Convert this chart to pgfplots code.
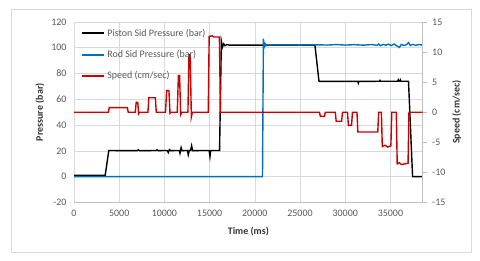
\documentclass[border=0pt]{standalone}
\usepackage{pgfplots}
\pgfplotsset{compat=1.18}
\usetikzlibrary{calc}
\usepackage{fontspec}
\setmainfont{Carlito}
\definecolor{gridc}{HTML}{D9D9D9}
\definecolor{tickc}{HTML}{595959}
\definecolor{axc}{HTML}{BFBFBF}
\definecolor{cblue}{RGB}{0,112,192}
\definecolor{cred}{RGB}{204,0,0}
\begin{document}
\begin{tikzpicture}
\pgfplotsset{
  common/.style={
    scale only axis, width=348.7bp, height=180.4bp,
    xmin=0, xmax=38570,
    scaled x ticks=false,
    /pgf/number format/assume math mode=true,
    /pgf/number format/1000 sep={},
    tick label style={font=\fontsize{10}{12}\selectfont, text=tickc},
    label style={font=\fontsize{10}{12}\selectfont\bfseries, text=black!80},
  }
}
\begin{axis}[common, name=ax,
  ymin=-20, ymax=120, ytick={-20,0,...,120},
  xtick={0,5000,...,35000},
  grid=major, major grid style={gridc, line width=0.6bp},
  axis line style={draw=none},
  major tick length=0pt,
  yticklabel style={xshift=-4bp},
  xticklabel style={yshift=-4bp},
  ylabel={Pressure (bar)},
  ylabel style={at={(axis description cs:-0.0975,0.5)}, anchor=center},
  xlabel={Time (ms)},
  xlabel style={at={(axis description cs:0.5,-0.1625)}, anchor=center},
]
\draw[axc, line width=0.6bp] (axis cs:0,-20) -- (axis cs:38570,-20);
\addplot[black, line width=1.4bp] coordinates {
(0,1.1) (3450,1.1) (3850,20.3) (5000,20.2) (7000,20.2) (7120,20.8) (7250,20.1)
(9100,20.3) (9200,20.8) (9300,20.2) (10300,20.3) (10430,18.7) (10550,21) (10700,20.2)
(11650,20.3) (11720,18.2) (11850,22.5) (11950,20.2) (12550,20.3) (12640,16.9) (12750,20.4)
(12900,20.3) (13010,24) (13120,20.2) (14950,20.3) (15040,15.6) (15120,20.3) (16100,20.3)
(16300,105) (16420,100.5) (16550,103) (16700,101.6) (16900,102.5) (17200,102)
(20000,102) (26650,102) (27100,73.9) (31400,73.9) (31450,72.6) (31500,73.9)
(33800,74) (33850,74.6) (33900,74) (35800,74) (35870,75.2) (35950,74.1) (36050,74.2)
(36100,75.0) (36150,74) (37000,74) (37450,0) (38570,0)
};
\addplot[cblue, line width=1.4bp] coordinates {
(0,0) (20850,0) (20950,107) (21050,100.8) (21150,103) (21250,101.6) (21400,102.5)
(21600,102.1) (23000,102.2) (25000,102.1) (27000,102.3) (28000,102.1) (29000,102.5)
(30000,102.1) (31000,102.4) (32000,102.0) (33000,102.5) (33500,101.8) (33700,102.9)
(33900,101.6) (34200,102.6) (34500,102.0) (34800,102.8) (35100,101.7) (35400,102.9)
(35700,101.5) (36000,100.3) (36200,102.6) (36500,101.8) (36800,102.5) (37000,104.0)
(37200,101.8) (37500,102.6) (37800,101.9) (38100,102.4) (38570,102.2)
};
\end{axis}
\begin{axis}[common,
  ymin=-15, ymax=15, ytick={-15,-10,...,15},
  axis x line=none, axis y line*=right,
  axis line style={axc, line width=0.6bp},
  ytick style={axc, line width=0.6bp},
  tick align=outside, major tick length=4bp,
  yticklabel style={xshift=2bp},
  ylabel={Speed (cm/sec)},
  ylabel style={at={(axis description cs:1.0975,0.5)}, anchor=center},
  legend style={at={(axis description cs:0.012,0.985)}, anchor=north west,
    draw=none, fill=none, row sep=8.5bp, text=tickc,
    font=\fontsize{10}{12}\selectfont},
  legend cell align=left,
  legend image code/.code={\draw[line width=2bp,#1] (0bp,0bp) -- (22bp,0bp);},
]
\addlegendimage{draw=black}
\addlegendentry{Piston Sid Pressure (bar)}
\addlegendimage{draw=cblue}
\addlegendentry{Rod Sid Pressure (bar)}
\addlegendimage{draw=cred}
\addlegendentry{Speed (cm/sec)}
\addplot[cred, line width=1.4bp, forget plot] coordinates {
(0,0) (3800,0) (3900,0.75) (5900,0.75) (6000,0)
(6780,0) (6880,1.65) (7050,1.65) (7150,-0.25) (7250,0)
(8180,0) (8280,2.4) (9000,2.4) (9100,0)
(10120,0) (10250,3.6) (10500,3.6) (10620,-0.2) (10750,0)
(11420,0) (11550,6.1) (11680,6.1) (11800,-0.4) (11920,0)
(12600,0) (12720,9.6) (12850,9.6) (12980,-0.8) (13100,0)
(14850,0) (14950,12.6) (15300,12.7) (15450,12.5) (15700,12.5) (16080,12.5) (16200,0)
(27150,0) (27250,-0.7) (27700,-0.7) (27800,0)
(28900,0) (29000,-1.5) (29600,-1.5) (29700,0)
(30250,0) (30350,-2.2) (30700,-2.2) (30800,0)
(31300,0) (31400,-3.3) (33600,-3.3) (33700,0)
(34000,0) (34100,-5.7) (34400,-5.5) (34700,-5.8) (35050,-5.6) (35150,0)
(35650,0) (35750,-8.6) (36000,-8.4) (36200,-8.7) (36950,-8.5) (37050,0) (38570,0)
};
\end{axis}
\draw[gridc, line width=0.8bp] ($(ax.south west)+(-63bp,-49.6bp)$) rectangle ($(ax.north east)+(48.3bp,12.7bp)$);
\path ($(ax.south west)+(-74bp,-58.6bp)$) rectangle ($(ax.north east)+(57.3bp,22bp)$);
\end{tikzpicture}
\end{document}
